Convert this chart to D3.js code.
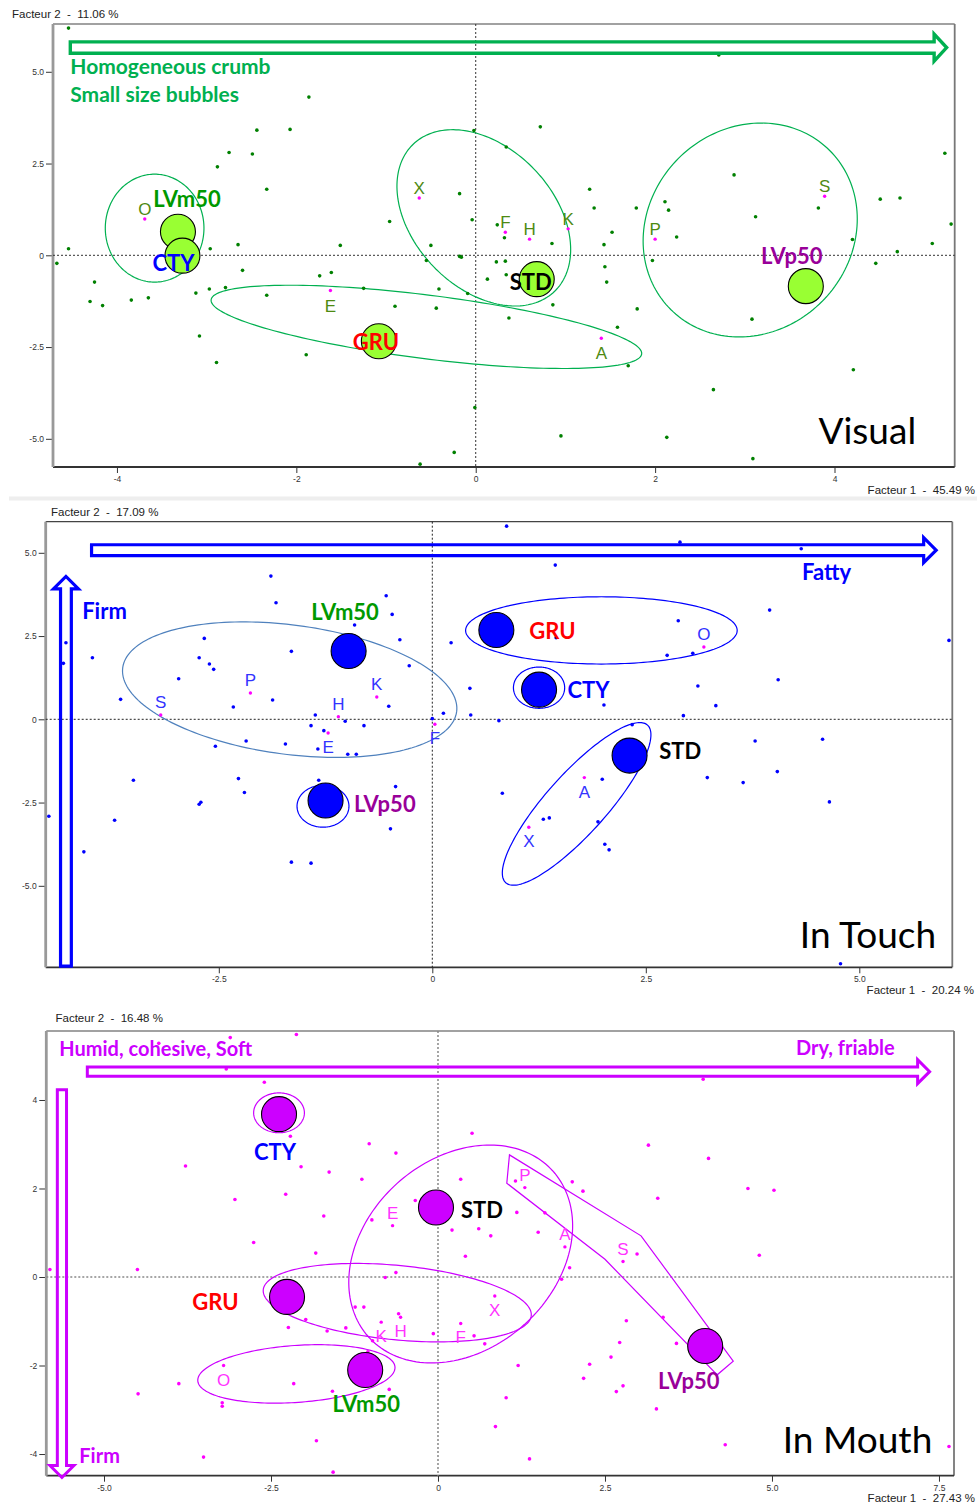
<!DOCTYPE html>
<html><head><meta charset="utf-8">
<script src="https://cdn.jsdelivr.net/npm/d3@7"></script>
<style>body{margin:0;background:#fff}svg{display:block}text{white-space:pre}</style>
</head><body>
<svg id="c" width="977" height="1506"></svg>
<script>
// ---------------- DATA ----------------
const productNames = ["LVm50","CTY","GRU","STD","LVp50"];
const productColors = {LVm50:"#009900", CTY:"#0000ff", GRU:"#ff0000", STD:"#000000", LVp50:"#990099"};

// Panel 1 : Visual
const visualAxisTitles = ["Facteur 2  -  11.06 %", "Facteur 1  -  45.49 %"];
const visualXTicks = [-4,-2,0,2,4];
const visualYTicks = [-5,-2.5,0,2.5,5];
const visualDots = [[-4.54,6.19],[-1.86,4.31],[-2.44,3.41],[-2.07,3.43],[-0.02,3.40],[-2.75,2.80],[-2.49,2.76],[-2.88,2.41],[-2.33,1.80],[-0.18,1.68],[-0.96,0.92],[-0.04,0.97],[-4.54,0.18],[-2.65,0.29],[-1.51,0.27],[-0.50,0.27],[-2.96,0.18],[2.71,5.46],[0.72,3.50],[0.34,2.95],[2.88,2.19],[1.27,1.80],[1.32,1.29],[1.79,1.29],[2.11,1.46],[2.15,1.23],[5.23,2.78],[4.51,1.53],[4.73,1.56],[3.82,1.29],[3.12,1.05],[5.30,0.85],[0.24,0.83],[0.32,0.48],[0.85,0.32],[1.52,0.63],[1.43,0.29],[2.24,0.50],[4.20,0.43],[5.09,0.32],[-4.67,-0.22],[-2.60,-0.41],[-4.25,-0.73],[-4.30,-1.26],[-4.16,-1.37],[-3.84,-1.22],[-3.65,-1.16],[-3.12,-1.03],[-2.97,-0.92],[-2.79,-0.88],[-2.33,-1.09],[-1.74,-0.56],[-1.61,-0.47],[-1.25,-0.90],[-0.90,-1.39],[-0.44,-1.44],[-0.41,-0.92],[-0.55,-0.14],[-0.18,-0.03],[-0.16,-0.05],[-0.09,-1.04],[0.13,-0.65],[-3.08,-2.20],[-2.89,-2.92],[-1.89,-2.71],[-0.01,-4.15],[-0.24,-5.37],[-0.62,-5.69],[0.23,-0.18],[0.33,-0.16],[0.34,-0.53],[1.44,-0.31],[1.46,-0.73],[1.97,-0.14],[4.70,0.10],[4.46,-0.22],[0.86,-1.35],[0.37,-1.71],[1.80,-1.46],[1.58,-1.96],[3.08,-1.74],[1.70,-3.01],[4.21,-3.12],[2.65,-3.66],[0.95,-4.92],[2.13,-4.96],[3.09,-5.54]];
const visualAttributes = [["O",-3.69,0.99,"up"],["X",-0.63,1.56,"up"],["F",0.33,0.63,"up"],["H",0.60,0.44,"up"],["K",1.03,0.72,"up"],["P",2.00,0.44,"up"],["S",3.89,1.61,"up"],["E",-1.62,-0.96,"down"],["A",1.40,-2.26,"down"]];
const visualProducts = [["LVm50",-3.32,0.64],["CTY",-3.27,-0.01],["GRU",-1.08,-2.34],["STD",0.68,-0.65],["LVp50",3.68,-0.84]];
const visualEllipses = [
  {cx:-3.58, cy:0.74, ux:0.55, uy:0, vx:0, vy:1.47},
  {cx:0.09, cy:1.02, ux:0.79, uy:-2.00, vx:-0.56, vy:-1.33},
  {cx:-0.55, cy:-1.95, ux:2.40, uy:-0.74, vx:-0.045, vy:-0.86},
  {cx:3.06, cy:0.69, ux:0.886, uy:2.166, vx:0.80, vy:-1.95}
];
const visualArrows = [{dir:"right", x1:-4.52, x2:5.25, y:5.66}];
const visualNotes = [["Homogeneous crumb",-4.52,4.94,"start"],["Small size bubbles",-4.52,4.19,"start"]];
const visualTitle = ["Visual",4.91,-5.14];

// Panel 2 : In Touch
const touchAxisTitles = ["Facteur 2  -  17.09 %", "Facteur 1  -  20.24 %"];
const touchXTicks = [-2.5,0,2.5,5];
const touchYTicks = [-5,-2.5,0,2.5,5];
const touchDots = [[-1.89,4.30],[-1.83,3.50],[-0.54,3.71],[-0.47,3.15],[-0.91,2.83],[-0.38,2.39],[0.22,2.30],[-4.29,2.30],[-4.32,1.68],[-3.98,1.85],[-2.67,2.43],[-1.65,2.04],[-2.73,1.85],[-2.61,1.66],[-2.56,1.50],[-2.97,1.22],[-0.27,1.61],[-3.65,0.60],[-2.33,0.37],[-1.87,0.58],[-0.51,0.39],[0.44,0.93],[-1.37,0.13],[-1.02,-0.06],[-1.42,-0.19],[-1.27,-0.34],[-0.80,-0.19],[0.00,0.02],[0.13,0.18],[0.45,0.13],[-2.18,-0.65],[-1.72,-0.74],[-2.54,-0.81],[-1.34,-0.89],[-0.99,-1.05],[-0.89,-1.05],[-3.50,-1.83],[-2.27,-1.78],[-2.20,-2.20],[-1.33,-1.83],[-0.43,-2.02],[-2.73,-2.55],[-2.71,-2.49],[-4.49,-2.91],[-3.72,-3.03],[-0.49,-3.29],[-4.08,-3.98],[-1.65,-4.29],[-1.42,-4.32],[0.87,5.80],[2.90,5.32],[4.32,5.12],[1.44,4.63],[3.95,3.28],[2.88,2.96],[2.75,1.92],[3.05,1.98],[1.45,2.45],[6.05,2.37],[4.05,1.19],[3.11,1.00],[2.01,0.43],[3.32,0.41],[2.94,0.11],[0.78,-0.04],[2.34,-0.16],[3.78,-0.65],[4.57,-0.60],[0.82,-2.22],[1.99,-1.80],[3.22,-1.75],[3.64,-1.90],[4.04,-1.57],[4.65,-2.48],[1.30,-3.00],[1.37,-2.96],[1.94,-3.08],[2.02,-3.75],[2.07,-3.92],[4.78,-7.34]];
const touchAttributes = [["P",-2.13,0.79,"up"],["S",-3.18,0.13,"up"],["H",-1.10,0.08,"up"],["K",-0.65,0.67,"up"],["E",-1.22,-0.41,"down"],["F",0.03,-0.15,"down"],["O",3.18,2.17,"up"],["A",1.78,-1.75,"down"],["X",1.13,-3.24,"down"]];
const touchProducts = [["LVm50",-0.98,2.05],["GRU",0.75,2.68],["CTY",1.25,0.89],["STD",2.31,-1.09],["LVp50",-1.25,-2.44]];
const touchEllipses = [
  {cx:-1.67, cy:0.89, ux:1.955, uy:-0.66, vx:-0.099, vy:-1.925},
  {cx:1.98, cy:2.67, ux:1.59, uy:0, vx:0, vy:1.01},
  {cx:1.25, cy:0.95, ux:0.30, uy:0, vx:0, vy:0.62},
  {cx:1.69, cy:-2.54, ux:0.830, uy:2.366, vx:0.261, vy:-0.604},
  {cx:-1.28, cy:-2.61, ux:0.304, uy:0, vx:0, vy:0.63}
];
const touchArrows = [{dir:"right", x1:-3.99, x2:5.90, y:5.08},{dir:"up", x:-4.29, y1:-7.41, y2:4.29}];
const touchNotes = [["Firm",-4.10,3.01,"start"],["Fatty",4.33,4.18,"start"]];
const touchTitle = ["In Touch",5.90,-6.88];

// Panel 3 : In Mouth
const mouthAxisTitles = ["Facteur 2  -  16.48 %", "Facteur 1  -  27.43 %"];
const mouthXTicks = [-5,-2.5,0,2.5,5,7.5];
const mouthYTicks = [-4,-2,0,2,4];
const mouthDots = [[-3.11,5.41],[-2.12,5.48],[-4.18,5.28],[-3.17,4.70],[-2.60,4.40],[-2.21,3.18],[-1.03,3.01],[-0.63,2.80],[0.51,3.25],[-3.78,2.51],[-2.05,2.49],[-1.63,2.37],[-1.14,2.21],[0.34,2.21],[-3.04,1.75],[-2.28,1.87],[-1.71,1.38],[-0.34,1.73],[-0.99,1.29],[0.21,1.06],[0.61,1.09],[-2.76,0.78],[3.97,4.47],[3.15,2.98],[4.05,2.68],[4.64,2.00],[5.03,1.96],[3.29,1.78],[2.01,2.15],[2.17,1.94],[1.16,2.17],[1.18,1.46],[1.60,1.45],[1.50,1.01],[0.79,0.93],[-1.83,0.54],[-5.81,0.17],[-4.50,0.17],[-0.63,0.10],[-0.79,-0.01],[0.41,0.47],[-1.24,-0.68],[-1.11,-0.68],[-0.59,-0.83],[-1.98,-0.96],[-2.24,-1.14],[-1.66,-1.22],[-1.38,-1.15],[-0.07,-1.28],[0.54,-1.33],[0.70,-1.51],[-0.98,-1.44],[-1.05,-1.69],[-3.88,-2.41],[-2.16,-2.41],[-1.58,-2.58],[-0.73,-2.54],[-4.49,-2.64],[-3.23,-2.84],[-3.23,-2.92],[-1.82,-3.70],[-3.51,-4.07],[-1.57,-4.41],[2.98,0.52],[4.81,0.49],[1.97,0.21],[1.85,-0.05],[2.82,-0.99],[3.37,-0.91],[2.72,-1.48],[3.57,-1.50],[2.59,-1.81],[2.27,-1.97],[1.20,-2.00],[2.18,-2.29],[2.77,-2.46],[2.67,-2.59],[1.02,-2.73],[3.27,-2.98],[0.86,-3.38],[1.37,-4.11],[4.30,-3.79],[7.65,-3.83]];
const mouthAttributes = [["E",-0.68,1.16,"up"],["P",1.30,2.02,"up"],["A",1.90,0.68,"up"],["S",2.77,0.35,"up"],["X",0.85,-0.43,"down"],["K",-0.85,-1.02,"down"],["H",-0.56,-0.91,"down"],["F",0.34,-1.05,"down"],["O",-3.21,-2.00,"down"]];
const mouthProducts = [["CTY",-2.38,3.68],["STD",-0.03,1.57],["GRU",-2.26,-0.45],["LVm50",-1.09,-2.10],["LVp50",4.00,-1.56]];
const mouthEllipses = [
  {cx:-2.38, cy:3.71, ux:0.38, uy:0, vx:0, vy:0.45},
  {cx:0.34, cy:0.52, ux:1.379, uy:1.876, vx:0.952, vy:-1.595},
  {cx:-0.61, cy:-0.58, ux:2.006, uy:-0.292, vx:-0.053, vy:-0.837},
  {cx:-2.12, cy:-2.19, ux:1.476, uy:0.156, vx:0.030, vy:-0.642}
];
const mouthHull = [[1.07,2.76],[3.04,0.93],[4.42,-1.90],[4.18,-2.21],[2.50,0.40],[1.03,2.12]];
const mouthArrows = [{dir:"right", x1:-5.25, x2:7.36, y:4.64},{dir:"down", x:-5.63, y1:4.23, y2:-4.53}];
const mouthNotes = [["Humid, cohesive, Soft",-5.67,5.00,"start"],["Dry, friable",5.36,5.02,"start"],["Firm",-5.37,-4.20,"start"]];
const mouthTitle = ["In Mouth",7.40,-3.98];

// ---------------- LAYOUT / STYLE ----------------
const panels = [
  {frame:{l:53,t:24,r:954.7,b:467}, xDomain:[-4.713,5.340], yDomain:[-5.768,6.302],
   xTicks:visualXTicks, yTicks:visualYTicks, xFmt:d=>String(d), yFmt:d=>d===0?"0":d.toFixed(1),
   titles:visualAxisTitles, yTitlePos:[12,18], xTitlePos:[975,494],
   dots:visualDots, dotColor:"#008000", attrs:visualAttributes, letterColor:"#4e8a12", attrDotColor:"#ff00ff", attrUp:-4, attrDown:21,
   products:visualProducts, bubbleFill:"#99ff33",
   labelOff:{LVm50:[9,-25],CTY:[-9,15],GRU:[-3,9],STD:[-6,11],LVp50:[-14,-22]},
   ellipses:visualEllipses, ellipseColors:["#00b050","#00b050","#00b050","#00b050"],
   arrows:visualArrows, arrowColor:"#00b050", arrowGeom:{sw:3.4,half:5.7,headHalf:13.5,headLen:12.5},
   notes:visualNotes, noteColor:"#00b050", noteSize:21, title:visualTitle, zeroColor:"#333", zeroW:1},
  {frame:{l:45.7,t:521.7,r:952.3,b:967.3}, xDomain:[-4.527,6.089], yDomain:[-7.447,5.934],
   xTicks:touchXTicks, yTicks:touchYTicks, xFmt:d=>d===0?"0":d.toFixed(1), yFmt:d=>d===0?"0":d.toFixed(1),
   titles:touchAxisTitles, yTitlePos:[51,515.5], xTitlePos:[974,993.5],
   dots:touchDots, dotColor:"#0000ff", attrs:touchAttributes, letterColor:"#3333ff", attrDotColor:"#ff00ff", attrUp:-7, attrDown:20,
   products:touchProducts, bubbleFill:"#0000ff",
   labelOff:{LVm50:[-3.5,-31],GRU:[56,9],CTY:[49.5,8.6],STD:[50.7,3.6],LVp50:[59.3,11]},
   ellipses:touchEllipses, ellipseColors:["#4f81bd","#0000ff","#0000ff","#0000ff","#0000ff"],
   arrows:touchArrows, arrowColor:"#0000ff", arrowGeom:{sw:3.2,half:5.4,headHalf:12.5,headLen:12.5},
   notes:touchNotes, noteColor:"#0000ff", noteSize:22, title:touchTitle, zeroColor:"#222", zeroW:1},
  {frame:{l:46.3,t:1031,r:954,b:1475.7}, xDomain:[-5.864,7.725], yDomain:[-4.490,5.559],
   xTicks:mouthXTicks, yTicks:mouthYTicks, xFmt:d=>d===0?"0":d.toFixed(1), yFmt:d=>String(d),
   titles:mouthAxisTitles, yTitlePos:[55.5,1021.5], xTitlePos:[975,1502],
   dots:mouthDots, dotColor:"#ff00ff", attrs:mouthAttributes, letterColor:"#ff33ff", attrDotColor:"#ff00ff", attrUp:-7, attrDown:20,
   products:mouthProducts, bubbleFill:"#cc00ff",
   labelOff:{CTY:[-4,46],STD:[46,10.6],GRU:[-71.5,13],LVm50:[1,42],LVp50:[-16.5,43]},
   ellipses:mouthEllipses, ellipseColors:["#cc00ff","#cc00ff","#cc00ff","#cc00ff"], hull:mouthHull,
   arrows:mouthArrows, arrowColor:"#cc00ff", arrowGeom:{sw:3,half:4.6,headHalf:12,headLen:12},
   notes:mouthNotes, noteColor:"#cc00ff", noteSize:20, title:mouthTitle, zeroColor:"#888", zeroW:1.5}
];

const svg = d3.select("#c");
svg.append("rect").attr("width",977).attr("height",1506).attr("fill","#fff");

function arrowPath(a, x, y, G){
  if(a.dir==="right"){
    const xs=x(a.x1), xt=x(a.x2), yc=y(a.y), xh=xt-G.headLen;
    return `M${xs},${yc-G.half}L${xh},${yc-G.half}L${xh},${yc-G.headHalf}L${xt},${yc}L${xh},${yc+G.headHalf}L${xh},${yc+G.half}L${xs},${yc+G.half}Z`;
  }
  const xc=x(a.x), yb=y(a.y1), yt=y(a.y2);
  if(a.dir==="up"){
    const yh=yt+G.headLen;
    return `M${xc-G.half},${yb}L${xc-G.half},${yh}L${xc-G.headHalf},${yh}L${xc},${yt}L${xc+G.headHalf},${yh}L${xc+G.half},${yh}L${xc+G.half},${yb}Z`;
  }
  const ytop=y(a.y1), ytip=y(a.y2), yh=ytip-G.headLen;
  return `M${xc-G.half},${ytop}L${xc-G.half},${yh}L${xc-G.headHalf},${yh}L${xc},${ytip}L${xc+G.headHalf},${yh}L${xc+G.half},${yh}L${xc+G.half},${ytop}Z`;
}

panels.forEach(P=>{
  const F=P.frame;
  const g=svg.append("g");
  const x=d3.scaleLinear().domain(P.xDomain).range([F.l,F.r]);
  const y=d3.scaleLinear().domain(P.yDomain).range([F.b,F.t]);

  const ax=g.append("g").attr("transform",`translate(0,${F.b})`)
    .call(d3.axisBottom(x).tickValues(P.xTicks).tickFormat(P.xFmt).tickSize(6).tickPadding(3));
  const ay=g.append("g").attr("transform",`translate(${F.l},0)`)
    .call(d3.axisLeft(y).tickValues(P.yTicks).tickFormat(P.yFmt).tickSize(7).tickPadding(2));
  [ax,ay].forEach(a=>{
    a.select(".domain").remove();
    a.selectAll("line").attr("stroke","#333");
    a.selectAll("text").attr("fill","#333").style("font-family","'Liberation Sans',Arial,sans-serif").style("font-size","8.5px");
  });

  g.append("line").attr("x1",F.l).attr("x2",F.r).attr("y1",F.t).attr("y2",F.t).attr("stroke","#444").attr("stroke-width",1.2);
  g.append("line").attr("x1",F.r).attr("x2",F.r).attr("y1",F.t).attr("y2",F.b).attr("stroke","#777").attr("stroke-width",1.8);
  g.append("line").attr("x1",F.l).attr("x2",F.r).attr("y1",F.b).attr("y2",F.b).attr("stroke","#333").attr("stroke-width",1.8);
  g.append("line").attr("x1",F.l).attr("x2",F.l).attr("y1",F.t).attr("y2",F.b).attr("stroke","#999").attr("stroke-width",2.8);

  g.append("line").attr("x1",x(0)).attr("x2",x(0)).attr("y1",F.t).attr("y2",F.b)
    .attr("stroke",P.zeroColor).attr("stroke-width",P.zeroW).attr("stroke-dasharray","2,2");
  g.append("line").attr("x1",F.l).attr("x2",F.r).attr("y1",y(0)).attr("y2",y(0))
    .attr("stroke",P.zeroColor).attr("stroke-width",P.zeroW).attr("stroke-dasharray","2,2");

  const tf="'Liberation Sans',Arial,sans-serif";
  g.append("text").attr("x",P.yTitlePos[0]).attr("y",P.yTitlePos[1]).text(P.titles[0])
    .style("font-family",tf).style("font-size","11.5px").attr("fill","#222");
  g.append("text").attr("x",P.xTitlePos[0]).attr("y",P.xTitlePos[1]).attr("text-anchor","end").text(P.titles[1])
    .style("font-family",tf).style("font-size","11.5px").attr("fill","#222");

  const T=d3.range(0,Math.PI*2,Math.PI/90);
  const line=d3.line().curve(d3.curveLinearClosed);
  P.ellipses.forEach((e,i)=>{
    const pts=T.map(t=>[x(e.cx+e.ux*Math.cos(t)+e.vx*Math.sin(t)), y(e.cy+e.uy*Math.cos(t)+e.vy*Math.sin(t))]);
    g.append("path").attr("d",line(pts)).attr("fill","none").attr("stroke",P.ellipseColors[i]).attr("stroke-width",1.2);
  });
  if(P.hull){
    g.append("path").attr("d",line(P.hull.map(d=>[x(d[0]),y(d[1])]))).attr("fill","none").attr("stroke",P.ellipseColors[0]).attr("stroke-width",1.2);
  }

  g.selectAll(null).data(P.dots).join("circle")
    .attr("cx",d=>x(d[0])).attr("cy",d=>y(d[1])).attr("r",1.8).attr("fill",P.dotColor);

  g.selectAll(null).data(P.attrs).join("circle")
    .attr("cx",d=>x(d[1])).attr("cy",d=>y(d[2])).attr("r",1.7).attr("fill",P.attrDotColor);
  g.selectAll(null).data(P.attrs).join("text")
    .attr("x",d=>x(d[1])).attr("y",d=>y(d[2])+(d[3]==="up"?P.attrUp:P.attrDown))
    .attr("text-anchor","middle").text(d=>d[0])
    .style("font-family",tf).style("font-size","17px").attr("fill",P.letterColor);

  g.selectAll(null).data(P.products).join("circle")
    .attr("cx",d=>x(d[1])).attr("cy",d=>y(d[2])).attr("r",17.5)
    .attr("fill",P.bubbleFill).attr("stroke","#000").attr("stroke-width",1.1);

  P.arrows.forEach(a=>{
    g.append("path").attr("d",arrowPath(a,x,y,P.arrowGeom)).attr("fill","none")
      .attr("stroke",P.arrowColor).attr("stroke-width",P.arrowGeom.sw).attr("stroke-linejoin","miter");
  });

  const bf="Lato,'Open Sans',sans-serif";
  g.selectAll(null).data(P.products).join("text")
    .attr("x",d=>x(d[1])+P.labelOff[d[0]][0]).attr("y",d=>y(d[2])+P.labelOff[d[0]][1])
    .attr("text-anchor","middle").text(d=>d[0])
    .style("font-family",bf).style("font-weight","700").style("font-size","22px")
    .attr("fill",d=>productColors[d[0]]);

  g.selectAll(null).data(P.notes).join("text")
    .attr("x",d=>x(d[1])).attr("y",d=>y(d[2])).attr("text-anchor",d=>d[3]).text(d=>d[0])
    .style("font-family",bf).style("font-weight","700").style("font-size",P.noteSize+"px").attr("fill",P.noteColor);

  g.append("text").attr("x",x(P.title[1])).attr("y",y(P.title[2])).attr("text-anchor","end").text(P.title[0])
    .style("font-family",bf).style("font-size","37px").attr("fill","#000");
});

svg.append("rect").attr("x",9).attr("y",496.5).attr("width",968).attr("height",4).attr("fill","#eeeeee");
</script>
</body></html>
